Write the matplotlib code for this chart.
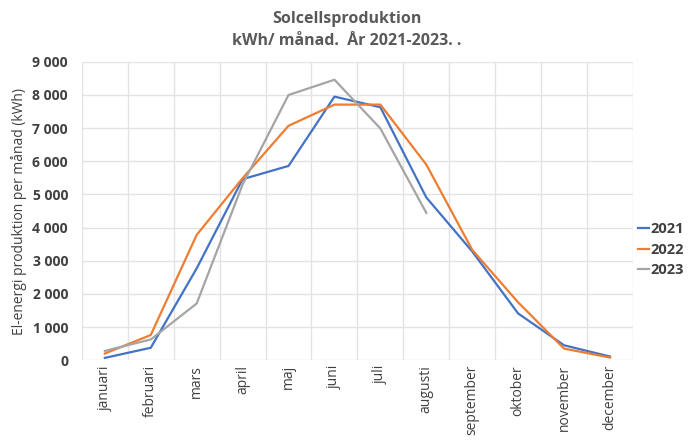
import matplotlib.pyplot as plt
import matplotlib.ticker as mticker

months = ['januari', 'februari', 'mars', 'april', 'maj', 'juni', 'juli',
          'augusti', 'september', 'oktober', 'november', 'december']
y2021 = [70, 375, 2770, 5460, 5860, 7950, 7630, 4910, 3280, 1410, 450, 110]
y2022 = [200, 760, 3780, 5490, 7070, 7710, 7710, 5900, 3330, 1745, 350, 80]
y2023 = [280, 625, 1710, 5300, 8000, 8460, 6990, 4445]

plt.rcParams['font.family'] = ['Open Sans', 'DejaVu Sans']

fig = plt.figure(figsize=(6.94, 4.48), dpi=100)
ax = fig.add_axes([0.118, 0.196, 0.794, 0.666])

x = list(range(len(months)))
ax.plot(x, y2021, color='#4472C4', lw=1.6, label='2021')
ax.plot(x, y2022, color='#ED7D31', lw=1.6, label='2022')
ax.plot(x[:len(y2023)], y2023, color='#A5A5A5', lw=1.6, label='2023')

ax.set_xlim(-0.5, 11.5)
ax.set_ylim(0, 9000)
ax.set_yticks(range(0, 9001, 1000))
ax.yaxis.set_major_formatter(mticker.FuncFormatter(lambda v, p: f'{int(v):,}'.replace(',', ' ')))
ax.set_xticks(x)
ax.set_xticklabels(months, rotation=90, fontsize=10, color='#404040')
ax.set_xticks([i + 0.5 for i in range(-1, 12)], minor=True)
for lab in ax.get_yticklabels():
    lab.set_fontweight('bold')
    lab.set_fontsize(10)
    lab.set_color('#404040')

ax.grid(True, axis='y', color='#e3e3e3', lw=1)
ax.grid(True, axis='x', which='minor', color='#e3e3e3', lw=1)
ax.tick_params(which='both', length=0)
ax.tick_params(axis='y', pad=10)
for s in ax.spines.values():
    s.set_visible(False)
ax.set_axisbelow(True)

ax.set_ylabel('El-energi produktion per månad (kWh)', fontsize=10, color='#404040')
fig.suptitle('Solcellsproduktion\nkWh/ månad.  År 2021-2023. .', y=0.975,
             fontsize=11.5, fontweight='bold', color='#595959', linespacing=1.5)

leg = ax.legend(loc='center left', bbox_to_anchor=(1.01, 0.37), frameon=False,
                handlelength=0.7, handletextpad=0.15, labelspacing=0.45,
                borderaxespad=0, borderpad=0,
                prop={'weight': 'bold', 'size': 10.5})
for t in leg.get_texts():
    t.set_color('#404040')

fig.savefig('out.png', dpi=100)
